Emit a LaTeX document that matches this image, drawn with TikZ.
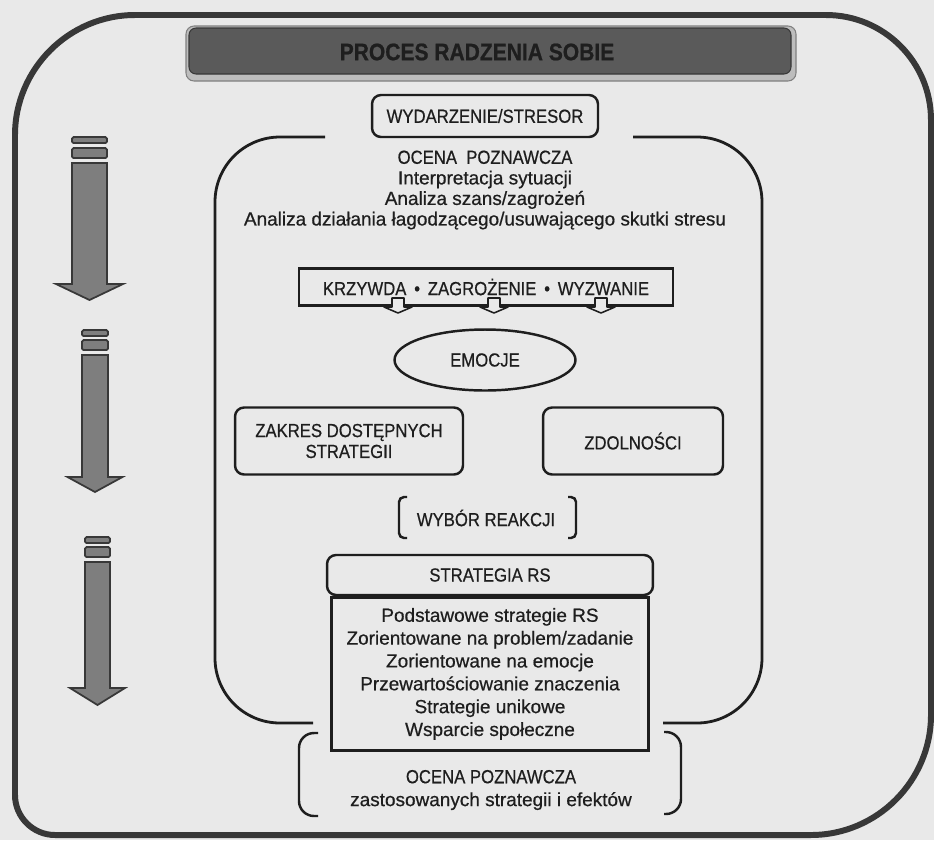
\documentclass[tikz,border=0pt]{standalone}
\usepackage{fontspec}
\setmainfont{Liberation Sans}[FakeBold=0.6]
\newfontfamily\narrowsans{Liberation Sans}[FakeStretch=0.88,FakeBold=0.6]
\newfontfamily\titlesans{Liberation Sans Bold}[FakeStretch=0.88,FakeBold=0.8]
\usepackage{tikz}
\usetikzlibrary{positioning,shapes.geometric}
\definecolor{paper}{HTML}{E9E9E9}
\definecolor{ink}{HTML}{1E1E1E}
\definecolor{framegray}{HTML}{383838}
\definecolor{stone}{HTML}{7E7E7E}
\definecolor{bardark}{HTML}{5A5A5A}
\definecolor{barlight}{HTML}{BDBDBD}
\newcommand\bodysize{\fontsize{10.8}{11.7}\selectfont}
\newcommand\widesize{\fontsize{10.8}{13}\selectfont}
\tikzset{
  lbl/.style={font=\narrowsans\bodysize,text=ink},
  rbox/.style={draw=ink,line width=1.4pt,rounded corners=0.18cm,lbl,inner sep=0pt,align=center},
  sbox/.style={draw=ink,line width=1.4pt,lbl,inner sep=0pt,align=center},
  txt/.style={align=center,text=ink,font=\bodysize},
  loopline/.style={draw=ink,line width=1.6pt,rounded corners=1.3cm},
  brace/.style={draw=ink,line width=1.4pt,rounded corners=0.1cm},
  tick/.style={fill=paper,draw=ink,line width=0.9pt,line join=round},
  bigarrow/.style={fill=stone,draw=framegray,line width=1pt},
  barstyle/.style={fill=stone,draw=framegray,line width=1pt,rounded corners=0.03cm}
}
\begin{document}
\begin{tikzpicture}[x=0.02cm,y=-0.02cm]
\fill[paper] (0,0) rectangle (934,840);
\useasboundingbox (0,0) rectangle (934,840);
% outer frame
\draw[framegray,line width=3.4pt] (15,135) .. controls (15,69) and (69,15) .. (135,15) -- (826,15)
  .. controls (884,15) and (931,62) .. (931,120) -- (931,715)
  .. controls (931,781) and (877,835) .. (811,835) -- (55,835)
  .. controls (33,835) and (15,817) .. (15,795) -- cycle;
% title bar
\filldraw[fill=barlight,draw=gray,line width=0.6pt,rounded corners=0.16cm] (186,26) rectangle (796,81);
\filldraw[fill=bardark,draw=framegray,line width=0.6pt,rounded corners=0.14cm] (189,28) rectangle (791,74);
\node[font=\titlesans\fontsize{13.6}{16}\selectfont,text=ink] (title) at (477,52) {PROCES RADZENIA SOBIE};
% left arrows
\foreach \cx/\ba/\bb/\st/\sb/\tip/\hw/\hh in {89.5/137/148/163/284/300/17.5/33.5,95/330/340/355/477/492/13/27.5,97.5/537/547/562/688/705/12.5/27.5}{
  \filldraw[barstyle] (\cx-\hw,\ba) rectangle (\cx+\hw,\ba+6);
  \filldraw[barstyle] (\cx-\hw,\bb) rectangle (\cx+\hw,\bb+10);
  \filldraw[bigarrow] (\cx-\hw,\st) -- (\cx+\hw,\st) -- (\cx+\hw,\sb) -- (\cx+\hh,\sb) -- (\cx,\tip) -- (\cx-\hh,\sb) -- (\cx-\hw,\sb) -- cycle;
}
% loop
\draw[loopline] (325,137) -- (215,137) -- (215,723) -- (313,723);
\draw[loopline] (633,137) -- (762,137) -- (762,723) -- (663,723);
% nodes
\node[rbox,minimum width=4.52cm,minimum height=0.84cm] (stresor) at (485,116) {WYDARZENIE/STRESOR};
\node[txt] (appraisal) at (485,190) {{\narrowsans OCENA\ \ POZNAWCZA}\\Interpretacja sytuacji\\Analiza szans/zagrożeń\\Analiza działania łagodzącego/usuwającego skutki stresu};
\node[sbox,minimum width=7.48cm,minimum height=0.74cm] (harm) at (486,287) {KRZYWDA \,•\, ZAGROŻENIE \,•\, WYZWANIE};
\foreach \ax in {398,494,601}
  \filldraw[tick] (\ax-6,298) -- (\ax-6,307) -- (\ax-14,307) -- (\ax,313) -- (\ax+14,307) -- (\ax+6,307) -- (\ax+6,298) -- cycle;
\node[ellipse,draw=ink,line width=1.4pt,lbl,inner sep=0pt,minimum width=3.62cm,minimum height=1.22cm] (emotions) at (485,360) {EMOCJE};
\node[rbox,minimum width=4.56cm,minimum height=1.34cm,font=\narrowsans\fontsize{10.8}{11.9}\selectfont] (range) at (349,441) {ZAKRES DOSTĘPNYCH\\STRATEGII};
\node[rbox,minimum width=3.6cm,minimum height=1.34cm] (abilities) at (633,441) {ZDOLNOŚCI};
\node[lbl] (choice) at (486,518) {WYBÓR REAKCJI};
\draw[brace] (407,497) -- (399,497) -- (399,538) -- (407,538);
\draw[brace] (568,497) -- (576,497) -- (576,538) -- (568,538);
\node[rbox,minimum width=6.52cm,minimum height=0.8cm] (rsHead) at (490,575) {STRATEGIA RS};
\node[sbox,below=0pt of rsHead,minimum width=6.34cm,minimum height=3.06cm,font=\widesize] (rsBody) {Podstawowe strategie RS\\Zorientowane na problem/zadanie\\Zorientowane na emocje\\Przewartościowanie znaczenia\\Strategie unikowe\\Wsparcie społeczne};
\node[txt,font=\widesize] (review) at (491,790) {{\narrowsans OCENA POZNAWCZA}\\zastosowanych strategii i efektów};
\draw[brace,rounded corners=0.3cm] (318,733) -- (299,733) -- (299,816) -- (318,816);
\draw[brace,rounded corners=0.3cm] (664,732) -- (681,732) -- (681,814) -- (664,814);
\end{tikzpicture}
\end{document}
